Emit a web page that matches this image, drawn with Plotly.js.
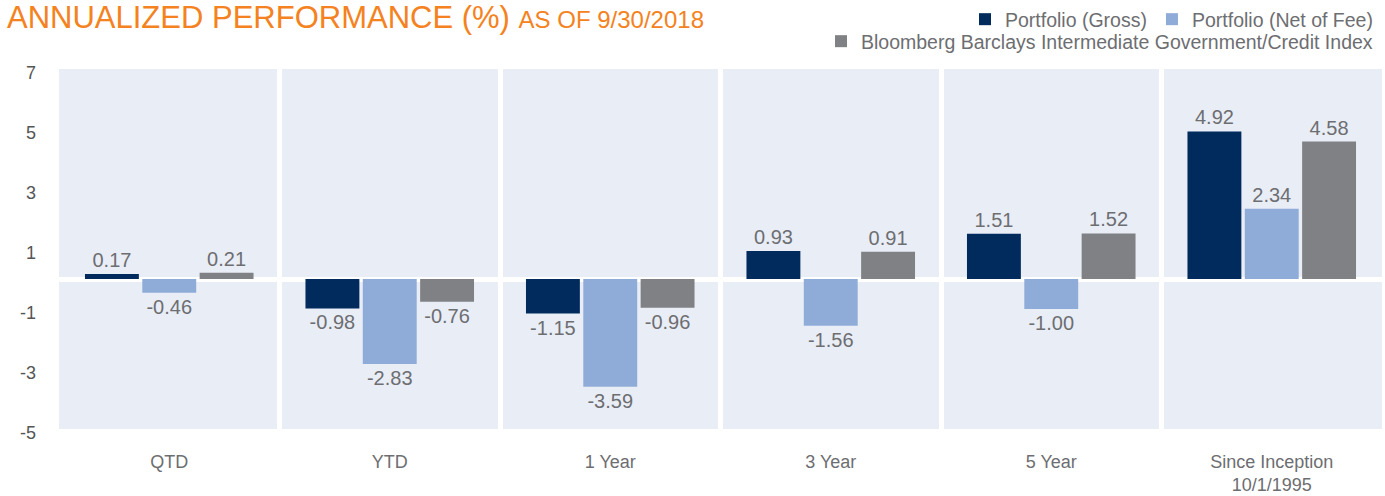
<!DOCTYPE html>
<html>
<head>
<meta charset="utf-8">
<script src="https://cdn.plot.ly/plotly-3.0.1.min.js"></script>
<style>html,body{margin:0;padding:0;background:#fff;}#chart{width:1385px;height:496px;}</style>
</head>
<body>
<div id="chart"></div>
<script>
const categories = ["QTD", "YTD", "1 Year", "3 Year", "5 Year", "Since Inception<br>10/1/1995"];
const grossValues = [0.17, -0.98, -1.15, 0.93, 1.51, 4.92];
const netValues = [-0.46, -2.83, -3.59, -1.56, -1.00, 2.34];
const indexValues = [0.21, -0.76, -0.96, 0.91, 1.52, 4.58];
const seriesNames = ["Portfolio (Gross)", "Portfolio (Net of Fee)", "Bloomberg Barclays Intermediate Government/Credit Index"];
const seriesColors = ["#002B5C", "#8FACD8", "#808184"];
const yTicks = [7, 5, 3, 1, -1, -3, -5];

const textGray = "#6D6E71";
const fontFam = "Liberation Sans, Arial, sans-serif";

function barTrace(vals, i, legendId) {
  return {
    type: "bar",
    x: categories,
    y: vals,
    name: seriesNames[i],
    marker: {color: seriesColors[i]},
    text: vals.map(v => v.toFixed(2)),
    textposition: "outside",
    cliponaxis: false,
    textfont: {family: fontFam, size: 20, color: textGray},
    legend: legendId,
    hoverinfo: "x+y"
  };
}

const data = [
  barTrace(grossValues, 0, "legend"),
  barTrace(netValues, 1, "legend"),
  barTrace(indexValues, 2, "legend2")
];

const layout = {
  width: 1385,
  height: 496,
  margin: {l: 59, r: 3, t: 69, b: 67},
  paper_bgcolor: "#FFFFFF",
  plot_bgcolor: "#E9EDF6",
  font: {family: fontFam, color: textGray},
  barmode: "group",
  bargap: 0.22,
  bargroupgap: 0.06,
  title: {
    text: 'ANNUALIZED PERFORMANCE (%) <span style="font-size:24px">AS OF 9/30/2018</span>',
    font: {family: fontFam, size: 31, color: "#F58220"},
    xref: "container", x: 7 / 1385, xanchor: "left",
    yref: "container", y: 1, yanchor: "top",
    pad: {t: 6, l: 0}
  },
  xaxis: {
    type: "category",
    tickson: "boundaries",
    showgrid: true,
    gridcolor: "#FFFFFF",
    gridwidth: 5,
    ticks: "",
    showline: false,
    zeroline: false,
    tickfont: {family: fontFam, size: 18, color: textGray},
    ticklabelstandoff: 20
  },
  yaxis: {
    range: [-5, 7],
    tickvals: yTicks,
    ticktext: yTicks.map(String),
    showgrid: false,
    zeroline: true,
    zerolinecolor: "#FFFFFF",
    zerolinewidth: 5,
    showline: false,
    ticks: "",
    tickfont: {family: fontFam, size: 18, color: "#555555"},
    ticklabelstandoff: 22,
    ticklabelshift: 4,
    fixedrange: true
  },
  legend: {
    orientation: "h",
    xref: "container", x: 1378 / 1385, xanchor: "right",
    yref: "container", y: 1, yanchor: "top",
    font: {family: fontFam, size: 19.5, color: textGray},
    bgcolor: "rgba(0,0,0,0)",
    itemwidth: 30,
    tracegroupgap: 0
  },
  legend2: {
    orientation: "h",
    xref: "container", x: 1378 / 1385, xanchor: "right",
    yref: "container", y: 1 - 22 / 496, yanchor: "top",
    font: {family: fontFam, size: 19.5, color: textGray},
    bgcolor: "rgba(0,0,0,0)",
    itemwidth: 30
  },
  showlegend: true
};

Plotly.newPlot("chart", data, layout, {displayModeBar: false, staticPlot: true});
</script>
</body>
</html>
